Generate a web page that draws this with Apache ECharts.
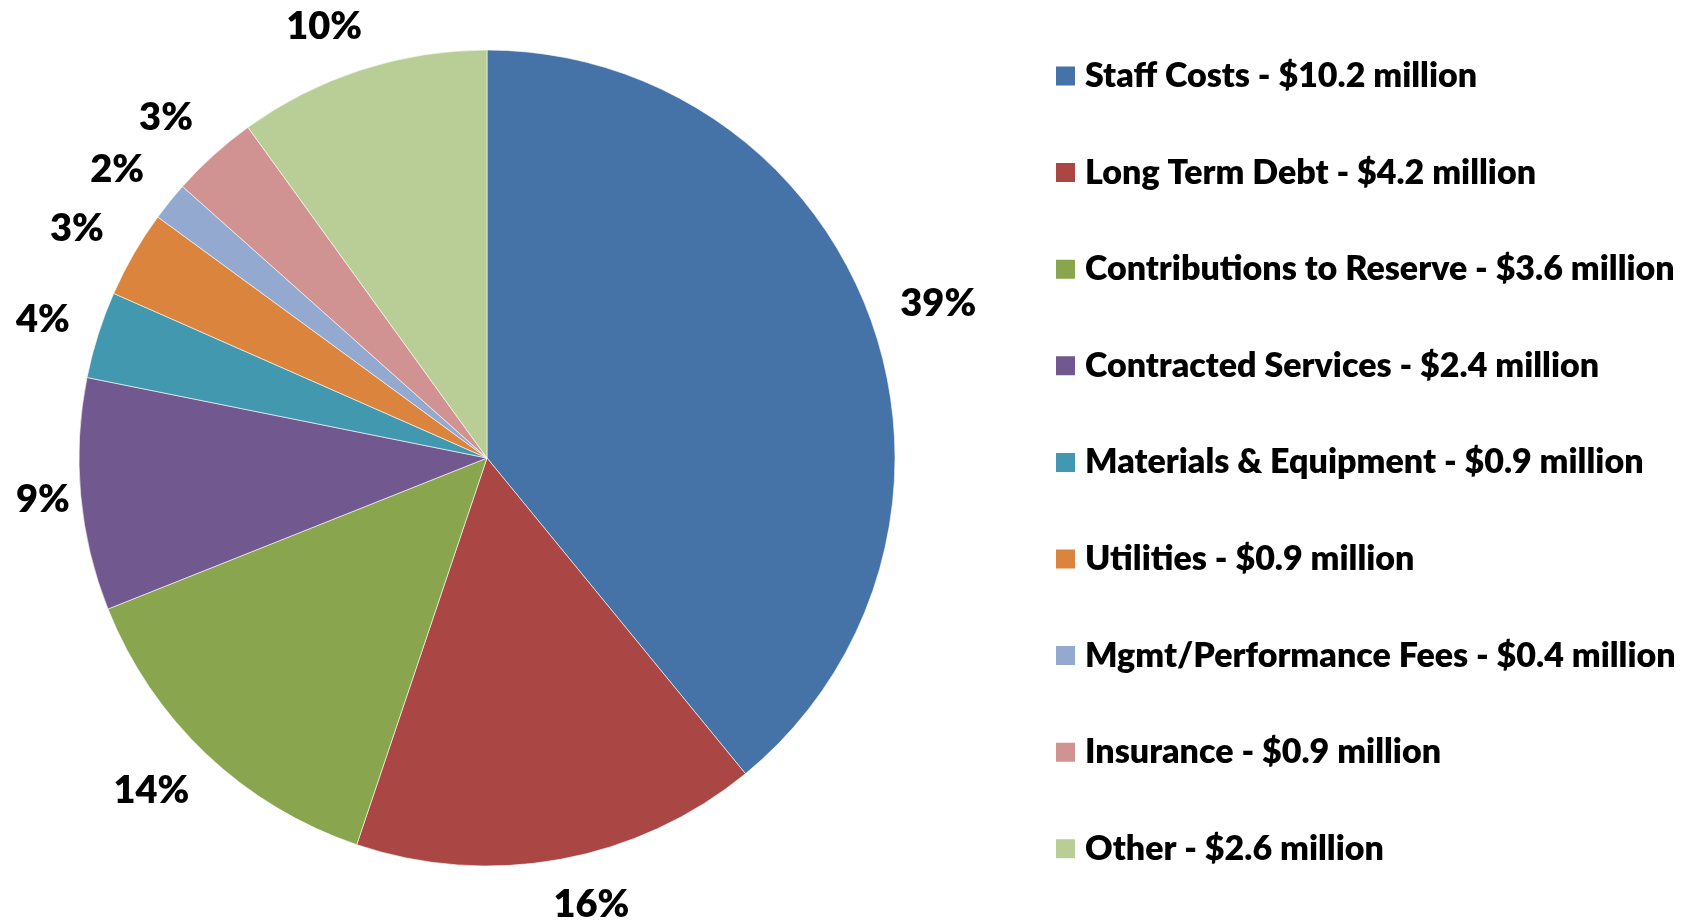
<!DOCTYPE html>
<html>
<head>
<meta charset="utf-8">
<title>Budget breakdown</title>
<script src="https://cdn.jsdelivr.net/npm/echarts@6/dist/echarts.min.js"></script>
<style>
  html, body { margin: 0; padding: 0; background: #fff; }
  #chart { width: 1688px; height: 923px; }
</style>
</head>
<body>
<div id="chart"></div>
<script>
// 类别与金额（百万美元）
const categories = [
  'Staff Costs',
  'Long Term Debt',
  'Contributions to Reserve',
  'Contracted Services',
  'Materials & Equipment',
  'Utilities',
  'Mgmt/Performance Fees',
  'Insurance',
  'Other'
]
const values = [10.2, 4.2, 3.6, 2.4, 0.9, 0.9, 0.4, 0.9, 2.6]
// 图上标注的百分比
const pctLabels = ['39%', '16%', '14%', '9%', '4%', '3%', '2%', '3%', '10%']
const colors = ['#4572A7', '#AA4643', '#89A54E', '#71588F', '#4198AF', '#DB843D', '#93A9CF', '#D19392', '#B9CD96']

// 饼图位置
const CX = 487
const CY = 458
const R = 408
// 标签偏移与边界
const OFF_X = 47
const OFF_Y = 50
const HALF_W_K = 0.6
const HALF_H = 14
const MIN_X = 16
const MIN_Y = 13
const MAX_Y = 919

const total = values.reduce((a, b) => a + b, 0)

const chart = echarts.init(document.getElementById('chart'))

const option = {
  backgroundColor: '#fff',
  animation: false,
  color: colors,
  legend: {
    orient: 'vertical',
    left: 1049,
    top: 51,
    icon: 'rect',
    itemWidth: 21,
    itemHeight: 21,
    itemGap: 56.6,
    selectedMode: false,
    data: categories,
    formatter: name => {
      const i = categories.indexOf(name)
      return name + ' - $' + values[i] + ' million'
    },
    textStyle: {
      fontFamily: 'Lato',
      fontWeight: 800,
      fontSize: 34,
      lineHeight: 40,
      color: '#000',
      padding: [0, 0, 0, 4]
    }
  },
  series: [
    {
      type: 'pie',
      center: [CX, CY],
      radius: R,
      startAngle: 90,
      clockwise: true,
      avoidLabelOverlap: false,
      emphasis: { disabled: true },
      itemStyle: {
        borderColor: '#fff',
        borderWidth: 0.6
      },
      label: {
        show: true,
        position: 'outside',
        formatter: p => pctLabels[p.dataIndex],
        fontFamily: 'Lato',
        fontWeight: 800,
        fontSize: 38,
        color: '#000'
      },
      labelLine: { show: false },
      // 标签放在扇区中线外侧，并限制在图表范围内
      labelLayout: params => {
        const i = params.dataIndex
        let before = 0
        for (let j = 0; j < i; j++) before += values[j]
        const mid = (before + values[i] / 2) / total * Math.PI * 2
        const ux = Math.sin(mid)
        const uy = -Math.cos(mid)
        const hw = params.labelRect.width / 2
        let x = CX + ux * (R + OFF_X) + Math.sign(ux) * HALF_W_K * hw
        let y = CY + uy * (R + OFF_Y)
        x = Math.max(x, MIN_X + hw)
        y = Math.min(Math.max(y, MIN_Y + HALF_H), MAX_Y - HALF_H)
        return {
          x: x,
          y: y,
          align: 'center',
          verticalAlign: 'middle'
        }
      },
      data: categories.map((name, i) => ({ name: name, value: values[i] }))
    }
  ]
}

chart.setOption(option)
</script>
</body>
</html>
